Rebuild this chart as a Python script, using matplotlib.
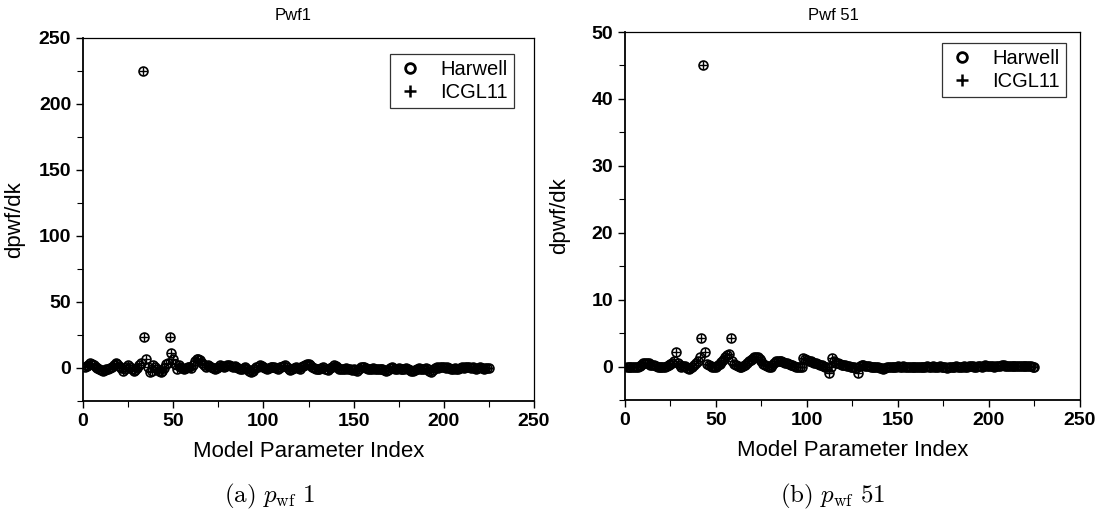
import matplotlib
matplotlib.use('Agg')
import matplotlib.pyplot as plt
from matplotlib.lines import Line2D
from matplotlib.ticker import MultipleLocator

plt.rcParams['font.family'] = ['Liberation Sans', 'DejaVu Sans']

# model parameter index
idx = list(range(1, 226))

# Pwf1 sensitivities
pwf1_harwell = [
    0.5, 1.5, 2.5, 3.5, 3.0, 2.0, 1.0, 0.0, -1.0, -1.5,
    -2.0, -1.5, -1.0, -0.5, 0.0, 1.0, 2.5, 4.0, 3.0, 1.5,
    0.0, -2.0, -1.0, 1.0, 2.0, 1.0, -1.0, -2.0, -1.5, 0.0,
    2.0, 4.0, 225.0, 23.5, 7.0, 1.0, -3.0, -2.0, 2.0, 1.0,
    -1.0, -2.5, -3.0, -2.0, 0.0, 3.0, 4.0, 23.5, 11.0, 7.0,
    3.0, -1.0, 2.0, 1.0, 0.0, -1.0, 0.0, 1.0, 0.5, 0.0,
    2.0, 5.0, 7.0, 6.5, 6.0, 4.0, 2.0, 1.0, 2.0, 1.5,
    0.5, 0.0, -0.5, 0.0, 1.0, 2.0, 1.5, 1.0, 1.5, 2.5,
    2.0, 1.5, 1.0, 1.5, 1.0, 0.0, -0.5, -1.0, 0.0, 1.0,
    -1.0, -2.5, -3.0, -2.0, -0.5, 0.5, 1.0, 2.0, 1.5, 1.0,
    0.0, -0.5, 0.0, 0.5, 1.0, 0.5, 0.0, -0.5, 0.5, 1.0,
    1.5, 2.0, 1.0, -0.5, -1.5, -1.0, 0.0, 0.5, 0.0, -0.5,
    0.5, 1.5, 2.5, 3.0, 3.0, 2.0, 1.0, 0.0, -0.5, -1.0,
    -0.5, 0.0, 0.5, -0.5, -1.0, -1.5, 0.0, 1.0, 2.0, 1.5,
    0.5, -0.5, -1.0, -1.0, -0.5, 0.0, -0.5, -1.0, -1.5, -1.0,
    -1.5, -2.0, -0.5, 0.5, 1.0, 0.5, 0.0, -0.5, -1.0, -0.5,
    0.0, -0.5, -1.0, -1.0, -0.5, -1.0, -1.5, -2.5, -1.5, 0.0,
    0.5, 0.0, -0.5, -1.0, 0.0, -0.5, -1.0, -0.5, 0.0, -1.0,
    -1.5, -2.0, -2.5, -1.5, -0.5, 0.0, -0.5, -1.0, -0.5, 0.0,
    -1.0, -2.0, -3.0, -1.5, 0.0, 0.5, 0.0, 0.5, 1.0, 0.5,
    0.0, 0.5, 0.0, -0.5, -0.5, 0.0, -0.5, -1.0, 0.0, 0.5,
    0.0, 0.5, 1.0, 0.5, 0.0, 0.5, 0.0, -0.5, 0.0, 0.5,
    0.0, -0.5, 0.0, 0.0, 0.0,
]
pwf1_icgl11 = list(pwf1_harwell)  # the two codes sit on top of each other

# Pwf 51 sensitivities
pwf51_harwell = [
    0.0, 0.0, 0.0, 0.0, -0.1, -0.1, 0.0, 0.1, 0.3, 0.5,
    0.6, 0.6, 0.5, 0.3, 0.2, 0.2, 0.1, 0.0, -0.1, -0.1,
    -0.1, 0.0, 0.1, 0.2, 0.4, 0.6, 0.8, 2.1, 0.5, 0.2,
    0.0, 0.1, 0.1, -0.2, -0.3, -0.2, 0.0, 0.2, 0.5, 0.8,
    1.4, 4.3, 45.0, 2.1, 0.4, 0.2, 0.1, 0.0, -0.1, 0.0,
    0.2, 0.4, 0.7, 1.0, 1.4, 1.8, 1.9, 4.3, 0.8, 0.4,
    0.2, 0.1, 0.0, 0.0, 0.1, 0.3, 0.5, 0.8, 1.0, 1.2,
    1.4, 1.5, 1.5, 1.2, 0.8, 0.4, 0.2, 0.1, 0.0, 0.0,
    0.2, 0.5, 0.8, 0.9, 0.9, 0.8, 0.7, 0.6, 0.5, 0.4,
    0.3, 0.2, 0.1, 0.0, 0.0, -0.1, -0.1, 1.3, 1.2, 1.0,
    0.9, 0.8, 0.7, 0.6, 0.5, 0.4, 0.3, 0.2, 0.1, 0.0,
    0.0, -1.0, 0.0, 1.3, 0.8, 0.6, 0.5, 0.4, 0.3, 0.2,
    0.2, 0.1, 0.1, 0.0, 0.0, -0.1, -0.2, -1.0, 0.1, 0.2,
    0.2, 0.1, 0.1, 0.1, 0.0, 0.0, 0.0, -0.1, -0.1, -0.2,
    -0.2, -0.3, -0.2, -0.1, 0.0, 0.0, -0.1, 0.0, 0.0, 0.1,
    0.0, 0.0, 0.1, 0.0, -0.1, 0.0, 0.0, 0.0, -0.1, 0.0,
    0.0, 0.0, 0.0, -0.1, 0.0, 0.1, 0.0, 0.0, 0.1, 0.0,
    0.0, 0.0, 0.1, 0.0, 0.0, -0.1, -0.2, -0.1, 0.0, 0.0,
    0.0, 0.1, 0.0, 0.0, 0.0, 0.1, 0.0, 0.0, 0.1, 0.1,
    0.1, 0.0, 0.0, 0.1, 0.1, 0.0, 0.1, 0.2, 0.1, 0.1,
    0.1, 0.1, 0.0, 0.1, 0.1, 0.1, 0.2, 0.2, 0.1, 0.1,
    0.1, 0.1, 0.1, 0.1, 0.1, 0.1, 0.1, 0.1, 0.1, 0.1,
    0.1, 0.1, 0.1, 0.0, 0.0,
]
pwf51_icgl11 = list(pwf51_harwell)

titles = ['Pwf1', 'Pwf 51']
captions = [r'$\mathrm{(a)}\ p_{\mathrm{wf}}\ 1$', r'$\mathrm{(b)}\ p_{\mathrm{wf}}\ 51$']

fig = plt.figure(figsize=(10.97, 5.18), dpi=100)
ax1 = fig.add_axes([0.0757, 0.2259, 0.4111, 0.7008])
ax2 = fig.add_axes([0.5697, 0.2278, 0.4148, 0.7104])


def draw(ax, harwell, icgl, ylim, major, minor, leg_anchor, ylab_x):
    ax.plot(idx, harwell, linestyle='none', marker='o', ms=6.4, mfc='none',
            mec='black', mew=1.2, label='Harwell')
    ax.plot(idx, icgl, linestyle='none', marker='+', ms=6.4, color='black',
            mew=1.0, label='ICGL11')
    ax.set_xlim(0, 250)
    ax.set_ylim(*ylim)
    ax.xaxis.set_major_locator(MultipleLocator(50))
    ax.xaxis.set_minor_locator(MultipleLocator(25))
    ax.yaxis.set_major_locator(MultipleLocator(major))
    ax.yaxis.set_minor_locator(MultipleLocator(minor))
    ax.tick_params(which='both', direction='out', top=False, right=False)
    ax.tick_params(which='major', length=5, width=1.0)
    ax.tick_params(which='minor', length=4, width=0.8)
    for lab in ax.get_xticklabels() + ax.get_yticklabels():
        lab.set_fontweight('bold')
        lab.set_fontsize(14)
    for s in ['left', 'bottom']:
        ax.spines[s].set_linewidth(1.3)
    for s in ['top', 'right']:
        ax.spines[s].set_linewidth(0.9)
    ax.set_xlabel('Model Parameter Index', fontsize=16, labelpad=8)
    ax.set_ylabel('dpwf/dk', fontsize=16)
    ax.yaxis.set_label_coords(ylab_x, 0.5)
    handles = [
        Line2D([], [], linestyle='none', marker='o', ms=7, mfc='none',
               mec='black', mew=2.0),
        Line2D([], [], linestyle='none', marker='+', ms=8, color='black',
               mew=1.8),
    ]
    leg = ax.legend(handles, ['Harwell', 'ICGL11'], loc='upper right',
                    bbox_to_anchor=leg_anchor, borderaxespad=0,
                    fontsize=14.5, frameon=True, fancybox=False,
                    edgecolor='black', handlelength=1.4, handletextpad=0.8,
                    borderpad=0.3, labelspacing=0.2)
    leg.get_frame().set_linewidth(0.9)


draw(ax1, pwf1_harwell, pwf1_icgl11, (-25, 250), 50, 25, (0.956, 0.956), -0.129)
draw(ax2, pwf51_harwell, pwf51_icgl11, (-5, 50), 10, 5, (0.969, 0.970), -0.121)

fig.text(293 / 1097, 1 - 15 / 518, titles[0], ha='center', va='center', fontsize=12)
fig.text(833 / 1097, 1 - 15 / 518, titles[1], ha='center', va='center', fontsize=12)

fig.text(270 / 1097, 1 - 496 / 518, captions[0], ha='center', va='center',
         fontsize=18, math_fontfamily='cm')
fig.text(833 / 1097, 1 - 496 / 518, captions[1], ha='center', va='center',
         fontsize=18, math_fontfamily='cm')

fig.savefig('out.png', dpi=100)
